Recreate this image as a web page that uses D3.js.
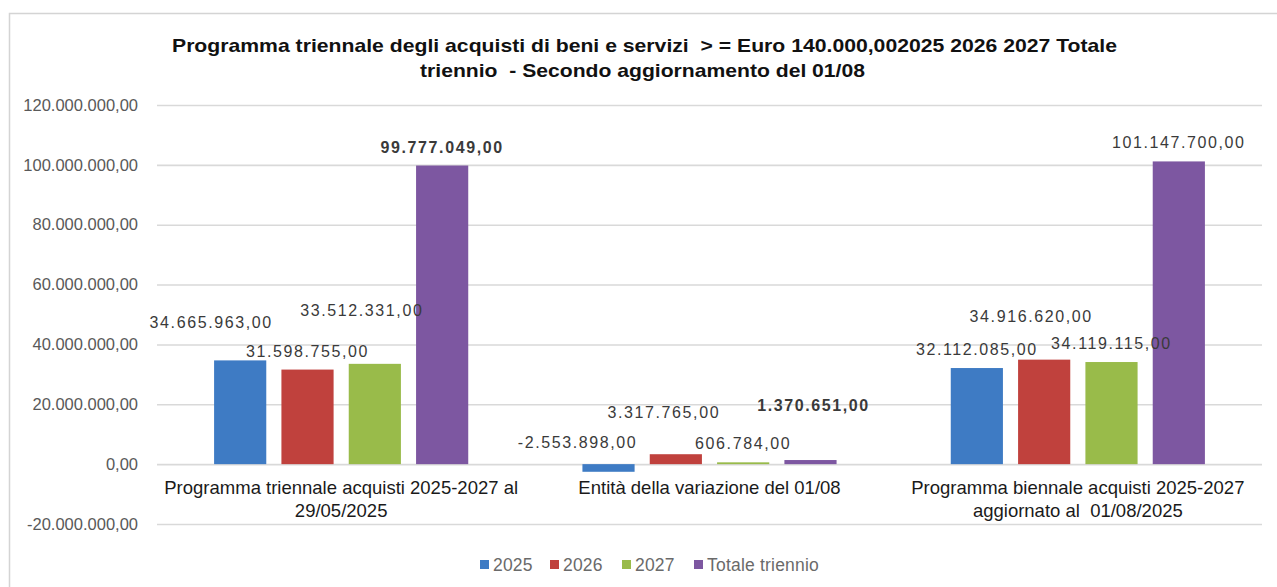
<!DOCTYPE html>
<html>
<head>
<meta charset="utf-8">
<script src="https://cdn.jsdelivr.net/npm/d3@7"></script>
<style>
  body { margin: 0; background: #fff; }
  svg { display: block; font-family: "Liberation Sans", Arial, sans-serif; }
  text { white-space: pre; }
</style>
</head>
<body>
<svg></svg>
<script>
// data
const categories = [
  ["Programma triennale acquisti 2025-2027 al", "29/05/2025"],
  ["Entità della variazione del 01/08"],
  ["Programma biennale acquisti 2025-2027", "aggiornato al  01/08/2025"]
];
const series = ["2025", "2026", "2027", "Totale triennio"];
const values2025 = [34665963, -2553898, 32112085];
const values2026 = [31598755, 3317765, 34916620];
const values2027 = [33512331, 606784, 34119115];
const valuesTot  = [99777049, 1370651, 101147700];
const yTicks = [-20000000, 0, 20000000, 40000000, 60000000, 80000000, 100000000, 120000000];
const colors = ["#3e7bc4", "#c0413d", "#99bb4a", "#7d57a1"];

// labels that excel pushed around so they dont overlap [cat][series] -> [dx, dy]
const nudge = [
  [[-29, -19], [0, 0], [-13, -35], [0, 0]],
  [[-31, -3], [-12, -23], [0, 0], [3, -36]],
  [[0, 0], [-13, -25], [0, 0], [0, 0]]
];

const width = 1277;
const height = 587;

const rows = categories.map((c, i) => ({
  cat: i,
  vals: [values2025[i], values2026[i], values2027[i], valuesTot[i]]
}));

const svg = d3.select("svg")
  .attr("width", width)
  .attr("height", height);

// chart frame
svg.append("rect")
  .attr("x", 9.5).attr("y", 13.5)
  .attr("width", 1300).attr("height", 600)
  .attr("fill", "none")
  .attr("stroke", "#d4d4d4")
  .attr("stroke-width", 1.5);

const x0 = d3.scaleBand()
  .domain(d3.range(categories.length))
  .range([157, 1262])
  .paddingInner(0.31)
  .paddingOuter(0.155);

const x1 = d3.scaleBand()
  .domain(series)
  .range([0, x0.bandwidth()])
  .paddingInner(0.225);

const y = d3.scaleLinear()
  .domain([-20000000, 120000000])
  .range([524, 105]);

const fmt = d3.formatLocale({ decimal: ",", thousands: ".", grouping: [3], currency: ["", ""], minus: "-" }).format(",.2f");

// gridlines + y labels
const yAxis = d3.axisLeft(y)
  .tickValues(yTicks)
  .tickSize(-(1262 - 157))
  .tickPadding(19)
  .tickFormat(fmt);

const gy = svg.append("g")
  .attr("transform", "translate(157,0)")
  .call(yAxis);
gy.select(".domain").remove();
gy.selectAll(".tick line")
  .attr("stroke", "#d9d9d9")
  .attr("stroke-width", 1.6);
gy.selectAll(".tick text")
  .attr("fill", "#595959")
  .attr("font-size", "16.5px")
  .attr("letter-spacing", "0px");

// bars
const groups = svg.append("g").selectAll("g")
  .data(rows)
  .join("g")
  .attr("transform", d => `translate(${x0(d.cat)},0)`);

groups.selectAll("rect")
  .data(d => d.vals.map((v, k) => ({ v: v, k: k, cat: d.cat })))
  .join("rect")
  .attr("x", d => x1(series[d.k]))
  .attr("y", d => y(Math.max(0, d.v)))
  .attr("width", x1.bandwidth())
  .attr("height", d => Math.max(1.5, Math.abs(y(d.v) - y(0))))
  .attr("fill", d => colors[d.k]);

// value labels
groups.selectAll("text")
  .data(d => d.vals.map((v, k) => ({ v: v, k: k, cat: d.cat })))
  .join("text")
  .attr("x", d => x1(series[d.k]) + x1.bandwidth() / 2 + nudge[d.cat][d.k][0])
  .attr("y", d => y(Math.max(0, d.v)) - 13 + nudge[d.cat][d.k][1])
  .attr("text-anchor", "middle")
  .attr("font-size", "16px")
  .attr("letter-spacing", "1.6px")
  .attr("fill", "#3a3a3a")
  .attr("font-weight", d => d.k === 3 && d.cat < 2 ? "bold" : "normal")
  .text(d => fmt(d.v));

// category labels
const cat = svg.append("g").selectAll("text")
  .data(categories)
  .join("text")
  .attr("x", (d, i) => x0(i) + x0.bandwidth() / 2)
  .attr("y", 494)
  .attr("text-anchor", "middle")
  .attr("font-size", "18.5px")
  .attr("fill", "#1a1a1a");
cat.selectAll("tspan")
  .data(d => d)
  .join("tspan")
  .attr("x", function () { return this.parentNode.getAttribute("x"); })
  .attr("dy", (d, i) => i === 0 ? 0 : 23)
  .text(d => d);

// title
const title = svg.append("g")
  .attr("font-weight", "bold")
  .attr("font-size", "18.5px")
  .attr("fill", "#111");
title.append("text")
  .attr("x", 172).attr("y", 52)
  .attr("textLength", 945)
  .attr("lengthAdjust", "spacingAndGlyphs")
  .text("Programma triennale degli acquisti di beni e servizi  > = Euro 140.000,002025 2026 2027 Totale");
title.append("text")
  .attr("x", 420).attr("y", 77)
  .attr("textLength", 445)
  .attr("lengthAdjust", "spacingAndGlyphs")
  .text("triennio  - Secondo aggiornamento del 01/08");

// legend
const legendX = [480, 550, 622, 694];
const legend = svg.append("g").selectAll("g")
  .data(series)
  .join("g")
  .attr("transform", (d, i) => `translate(${legendX[i]},565)`);
legend.append("rect")
  .attr("x", 0).attr("y", -5)
  .attr("width", 9).attr("height", 9)
  .attr("fill", (d, i) => colors[i]);
legend.append("text")
  .attr("x", 13).attr("y", 6)
  .attr("font-size", "17.5px")
  .attr("letter-spacing", "0.2px")
  .attr("fill", "#6a6a6a")
  .text(d => d);
</script>
</body>
</html>
